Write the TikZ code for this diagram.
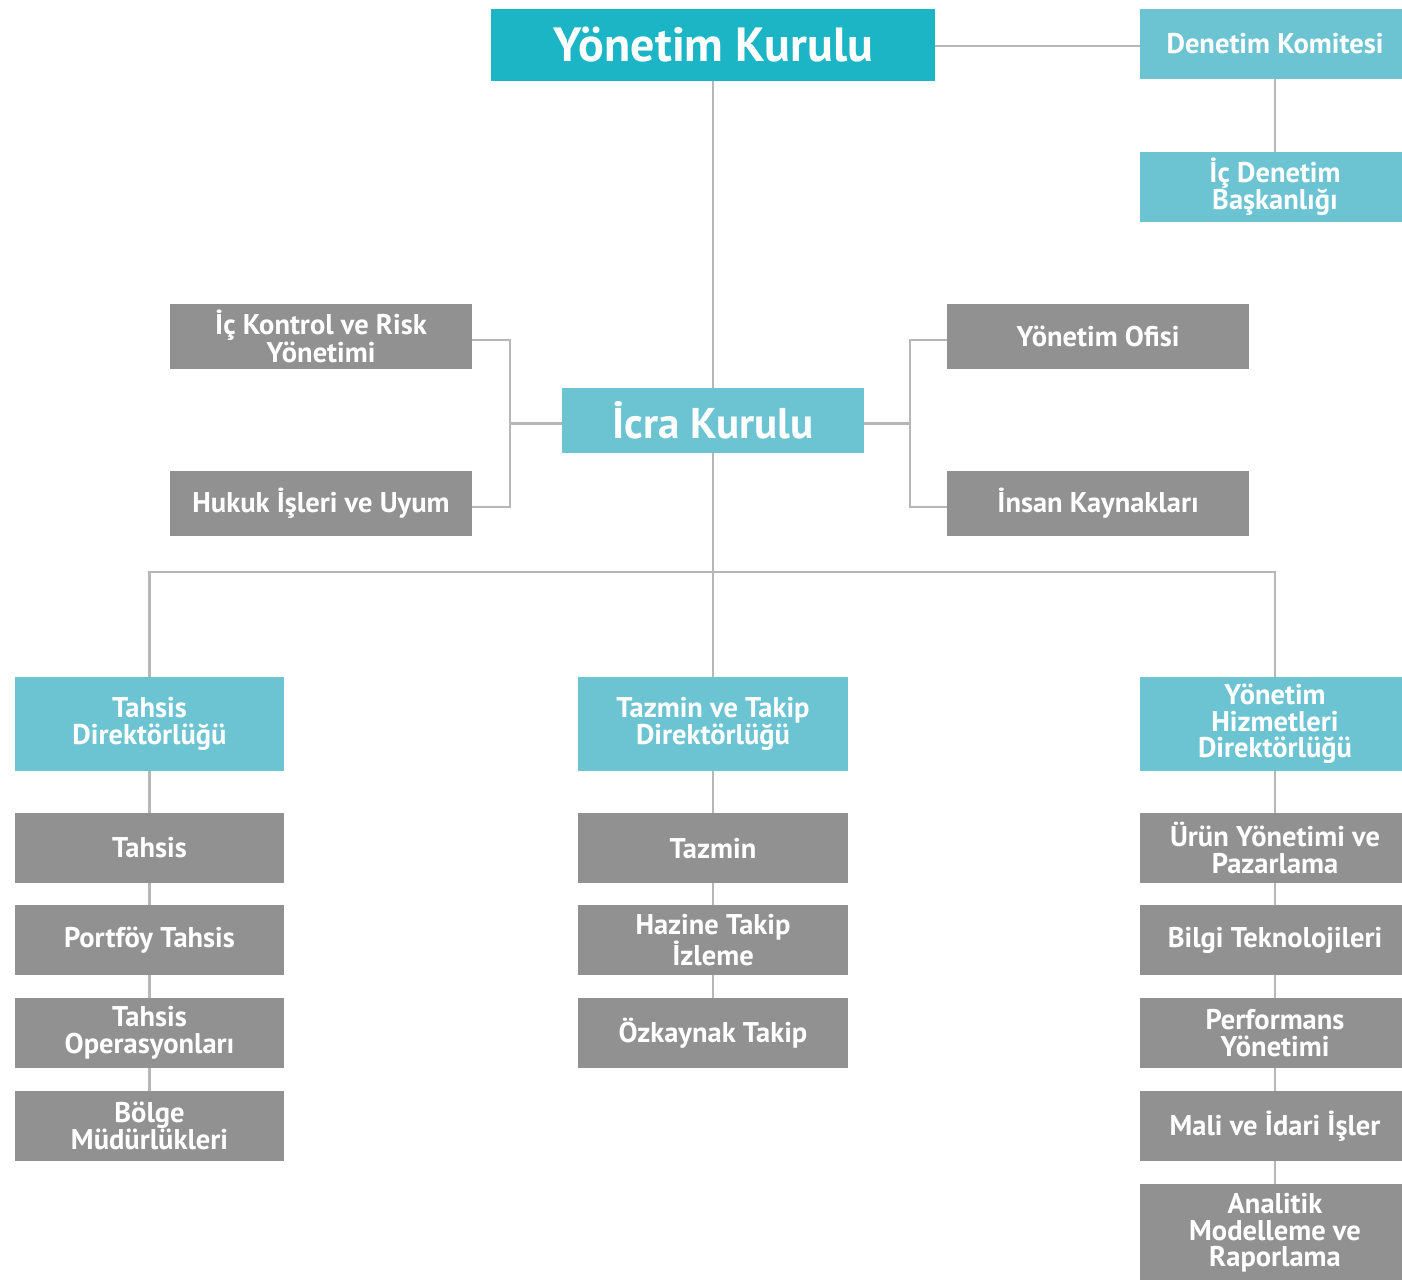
\documentclass[tikz,border=0pt]{standalone}
\usepackage{fontspec}
\setmainfont{PT Sans}
\definecolor{darkteal}{HTML}{1BB5C6}
\definecolor{lightteal}{HTML}{6CC4D3}
\definecolor{boxgray}{HTML}{919191}
\definecolor{linegray}{HTML}{B7B7B7}
\tikzset{
  basebox/.style={inner sep=0pt, text=white, align=center, font={\bfseries\fontsize{28.5}{26.5}\selectfont}},
  topbox/.style={basebox, fill=darkteal, font={\bfseries\fontsize{48}{48}\selectfont}},
  tealbox/.style={basebox, fill=lightteal},
  bigteal/.style={basebox, fill=lightteal, font={\bfseries\fontsize{43}{43}\selectfont}},
  graybox/.style={basebox, fill=boxgray},
  conn/.style={draw=linegray, line width=2.8pt}
}
\newcommand\bx[7]{\node[#6, minimum width={#4pt-#2pt}, minimum height={#5pt-#3pt}] (#1) at ({(#2+#4)/2},{(#3+#5)/2}) {#7};}
\begin{document}
\begin{tikzpicture}[x=1pt,y=-1pt]
\useasboundingbox (0,0) rectangle (1402,1279);
\fill[white] (0,0) rectangle (1402,1279);
% boxes
\bx{yk}{491}{9}{935}{81}{topbox}{Yönetim Kurulu}
\bx{dk}{1140}{9}{1410}{79}{tealbox}{Denetim Komitesi}
\bx{idb}{1140}{152}{1410}{222}{tealbox}{İç Denetim\\Başkanlığı}
\bx{ick}{170}{304}{472}{369}{graybox}{İç Kontrol ve Risk\\Yönetimi}
\bx{huk}{170}{471}{472}{536}{graybox}{Hukuk İşleri ve Uyum}
\bx{icra}{562}{388}{864}{453}{bigteal}{İcra Kurulu}
\bx{yo}{947}{304}{1249}{369}{graybox}{Yönetim Ofisi}
\bx{ik}{947}{471}{1249}{536}{graybox}{İnsan Kaynakları}
\bx{td}{15}{677}{284}{771}{tealbox}{Tahsis\\Direktörlüğü}
\bx{tt}{578}{677}{848}{771}{tealbox}{Tazmin ve Takip\\Direktörlüğü}
\bx{yh}{1140}{677}{1410}{771}{tealbox}{Yönetim\\Hizmetleri\\Direktörlüğü}
\bx{ta}{15}{813}{284}{883}{graybox}{Tahsis}
\bx{pt}{15}{905}{284}{975}{graybox}{Portföy Tahsis}
\bx{to}{15}{998}{284}{1068}{graybox}{Tahsis\\Operasyonları}
\bx{bm}{15}{1091}{284}{1161}{graybox}{Bölge\\Müdürlükleri}
\bx{tz}{578}{813}{848}{883}{graybox}{Tazmin}
\bx{hz}{578}{905}{848}{975}{graybox}{Hazine Takip\\İzleme}
\bx{oz}{578}{998}{848}{1068}{graybox}{Özkaynak Takip}
\bx{ur}{1140}{813}{1410}{883}{graybox}{Ürün Yönetimi ve\\Pazarlama}
\bx{bt}{1140}{905}{1410}{975}{graybox}{Bilgi Teknolojileri}
\bx{py}{1140}{998}{1410}{1068}{graybox}{Performans\\Yönetimi}
\bx{mi}{1140}{1091}{1410}{1161}{graybox}{Mali ve İdari İşler}
\bx{an}{1140}{1184}{1410}{1282}{graybox}{Analitik\\Modelleme ve\\Raporlama}
% junction coordinates
\coordinate (jl) at ([yshift=-3pt]icra.west -| 510,0);
\coordinate (jr) at ([yshift=-3pt]icra.east -| 910,0);
\coordinate (bus) at (icra.south |- 0,572);
% connectors
\draw[conn] ([yshift=-1pt]yk.east) -- ([yshift=-1pt]yk.east -| dk.west);
\draw[conn] (dk.south) -- (idb.north);
\draw[conn] (yk.south) -- (icra.north);
\draw[conn] ([yshift=-3pt]icra.west) -- (jl);
\draw[conn] ([yshift=-3.5pt]ick.east) -| (jl);
\draw[conn] ([yshift=-3.5pt]huk.east) -| (jl);
\draw[conn] ([yshift=-3pt]icra.east) -- (jr);
\draw[conn] ([yshift=-3.5pt]yo.west) -| (jr);
\draw[conn] ([yshift=-3.5pt]ik.west) -| (jr);
\draw[conn] (icra.south) -- (tt.north);
\draw[conn] (td.north) |- (bus) -| (yh.north);
\draw[conn] (td.south) -- (ta.north);
\draw[conn] (ta.south) -- (pt.north);
\draw[conn] (pt.south) -- (to.north);
\draw[conn] (to.south) -- (bm.north);
\draw[conn] (tt.south) -- (tz.north);
\draw[conn] (tz.south) -- (hz.north);
\draw[conn] (hz.south) -- (oz.north);
\draw[conn] (yh.south) -- (ur.north);
\draw[conn] (ur.south) -- (bt.north);
\draw[conn] (bt.south) -- (py.north);
\draw[conn] (py.south) -- (mi.north);
\draw[conn] (mi.south) -- (an.north);
\end{tikzpicture}
\end{document}
